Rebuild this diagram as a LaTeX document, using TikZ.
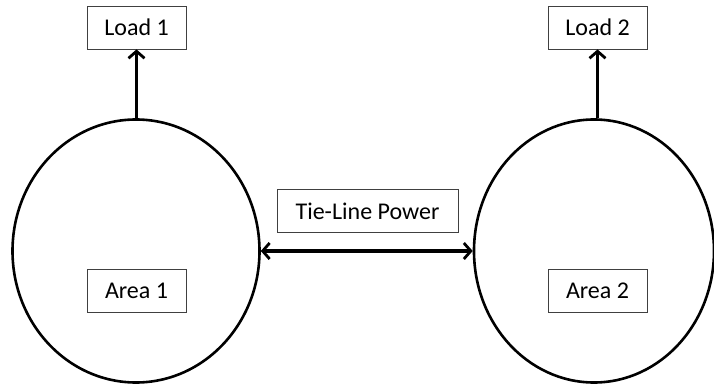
\documentclass[tikz,border=0pt]{standalone}
\usepackage{fontspec}
\setmainfont{Carlito}
\usetikzlibrary{shapes.geometric,arrows.meta}

\begin{document}
\begin{tikzpicture}[x=1pt,y=-1pt,
  >={Straight Barb[length=7pt,width=16pt,line width=2.8pt]},
  tag/.style={draw=black!75,line width=0.8pt,minimum width=99pt,minimum height=43pt,
    inner sep=0pt,font=\fontsize{24}{28}\selectfont},
  area/.style={draw,ellipse,line width=2.6pt,inner sep=0pt},
  flow/.style={line width=3pt}]
\useasboundingbox (0,0) rectangle (714,385);

% the two control areas
\node[area,minimum width=247pt,minimum height=263pt] (a1) at (136,251) {};
\node[area,minimum width=240pt,minimum height=263pt] (a2) at (594,251) {};

\node[tag] (area1) at (136.5,290.5) {Area 1};
\node[tag] (area2) at (597.5,290.5) {Area 2};

% loads on top
\node[tag] (load1) at (136.5,27.5) {Load 1};
\node[tag] (load2) at (597.5,27.5) {Load 2};

\draw[flow,->] (load1.south |- a1.north) -- (load1.south);
\draw[flow,->] (load2.south |- a2.north) -- (load2.south);

% tie line
\node[tag,minimum width=181pt] (tie) at (367.5,211) {Tie-Line Power};
\draw[flow,<->,line width=3.6pt] (a1.east) -- (a2.west);

\end{tikzpicture}
\end{document}
